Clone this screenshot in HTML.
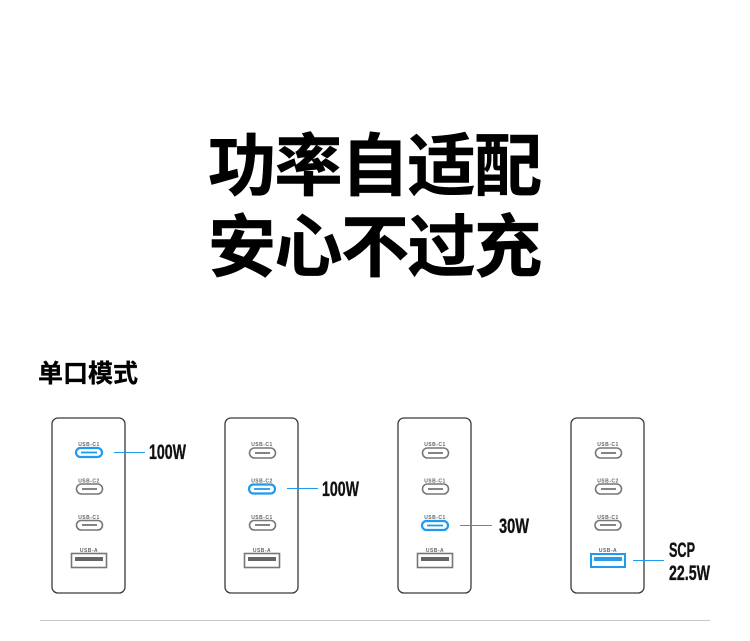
<!DOCTYPE html>
<html><head><meta charset="utf-8"><style>
html,body{margin:0;padding:0;background:#fff;width:750px;height:641px;overflow:hidden}
svg{display:block}
.t{font-family:"Liberation Sans","Noto Sans CJK SC",sans-serif;font-weight:700;fill:#000;stroke:#000;stroke-width:.6px;font-size:68px}
.h{font-family:"Liberation Sans","Noto Sans CJK SC",sans-serif;font-weight:700;fill:#000;stroke:#000;stroke-width:.3px;font-size:25px}
.l{font-family:"Liberation Sans",sans-serif;font-weight:700;fill:#111;stroke:#111;stroke-width:.35px;font-size:21px}
.s{font-family:"Liberation Sans",sans-serif;font-weight:700;fill:#666;font-size:5px;text-anchor:middle;letter-spacing:.5px}
.b{fill:none;stroke:#3a3a3a;stroke-width:1.3}
.c{fill:none;stroke:#777;stroke-width:1.6}
.ci{stroke:#666;stroke-width:1.6}
.on{fill:none;stroke:#1e9bf0;stroke-width:2.2}
.oni{stroke:#1e9bf0;stroke-width:1.8}
.ln{stroke:#1e9bf0;stroke-width:1.1}
</style></head><body>
<svg width="750" height="641" viewBox="0 0 750 641" xmlns="http://www.w3.org/2000/svg">
<text class="t" x="208" y="190" textLength="334" lengthAdjust="spacing">功率自适配</text>
<text class="t" x="208" y="271" textLength="334" lengthAdjust="spacing">安心不过充</text>
<text class="h" x="38" y="382" textLength="100" lengthAdjust="spacing">单口模式</text>

<!-- Unit 1 -->
<rect class="b" x="52" y="418" width="73" height="175" rx="6"/>
<text class="s" x="89" y="446">USB-C1</text>
<rect class="on" x="76" y="448" width="26" height="9" rx="4.500"/><line class="oni" x1="81" y1="452.500" x2="97" y2="452.500"/>
<text class="s" x="89" y="482.500">USB-C2</text>
<rect class="c" x="76.500" y="484" width="26" height="10" rx="5"/><line class="ci" x1="82" y1="489" x2="97" y2="489"/>
<text class="s" x="89" y="519">USB-C1</text>
<rect class="c" x="76.500" y="520.500" width="26" height="9.500" rx="4.700"/><line class="ci" x1="82" y1="525" x2="97" y2="525"/>
<text class="s" x="89" y="552">USB-A</text>
<rect class="c" x="71.500" y="553.500" width="35" height="14"/><rect x="75" y="557" width="28" height="4" fill="#666"/>
<line class="ln" x1="114" y1="452.500" x2="145" y2="452.500"/>
<text class="l" x="149" y="459" textLength="37" lengthAdjust="spacingAndGlyphs">100W</text>

<!-- Unit 2 -->
<rect class="b" x="225" y="418" width="73" height="175" rx="6"/>
<text class="s" x="262" y="446">USB-C1</text>
<rect class="c" x="249.500" y="448" width="26" height="10" rx="5"/><line class="ci" x1="255" y1="453" x2="270" y2="453"/>
<text class="s" x="262" y="482.500">USB-C2</text>
<rect class="on" x="249" y="484.500" width="26" height="9" rx="4.500"/><line class="oni" x1="254" y1="489" x2="270" y2="489"/>
<text class="s" x="262" y="519">USB-C1</text>
<rect class="c" x="249.500" y="520.500" width="26" height="9.500" rx="4.700"/><line class="ci" x1="255" y1="525" x2="270" y2="525"/>
<text class="s" x="262" y="552">USB-A</text>
<rect class="c" x="244.500" y="553.500" width="35" height="14"/><rect x="248" y="557" width="28" height="4" fill="#666"/>
<line class="ln" x1="287" y1="488.500" x2="318" y2="488.500"/>
<text class="l" x="322" y="496" textLength="37" lengthAdjust="spacingAndGlyphs">100W</text>

<!-- Unit 3 -->
<rect class="b" x="398" y="418" width="73" height="175" rx="6"/>
<text class="s" x="435" y="446">USB-C1</text>
<rect class="c" x="422.500" y="448" width="26" height="10" rx="5"/><line class="ci" x1="428" y1="453" x2="443" y2="453"/>
<text class="s" x="435" y="482.500">USB-C1</text>
<rect class="c" x="422.500" y="484" width="26" height="10" rx="5"/><line class="ci" x1="428" y1="489" x2="443" y2="489"/>
<text class="s" x="435" y="519">USB-C1</text>
<rect class="on" x="422" y="521" width="26" height="9" rx="4.500"/><line class="oni" x1="427" y1="525.500" x2="443" y2="525.500"/>
<text class="s" x="435" y="552">USB-A</text>
<rect class="c" x="417.500" y="553.500" width="35" height="14"/><rect x="421" y="557" width="28" height="4" fill="#666"/>
<line class="ln" x1="460" y1="525.500" x2="492" y2="525.500"/>
<text class="l" x="499" y="533" textLength="30" lengthAdjust="spacingAndGlyphs">30W</text>

<!-- Unit 4 -->
<rect class="b" x="571" y="418" width="73" height="175" rx="6"/>
<text class="s" x="608" y="446">USB-C1</text>
<rect class="c" x="595.500" y="448" width="26" height="10" rx="5"/><line class="ci" x1="601" y1="453" x2="616" y2="453"/>
<text class="s" x="608" y="482.500">USB-C2</text>
<rect class="c" x="595.500" y="484" width="26" height="10" rx="5"/><line class="ci" x1="601" y1="489" x2="616" y2="489"/>
<text class="s" x="608" y="519">USB-C1</text>
<rect class="c" x="595" y="520.500" width="26" height="9.500" rx="4.700"/><line class="ci" x1="600" y1="525" x2="616" y2="525"/>
<text class="s" x="608" y="552">USB-A</text>
<rect x="591" y="554" width="34" height="13" fill="none" stroke="#1e9bf0" stroke-width="2"/><rect x="594" y="557" width="28" height="4" fill="#2a9cee"/>
<line class="ln" x1="633" y1="560.500" x2="664" y2="560.500"/>
<text class="l" x="669" y="557" textLength="26" lengthAdjust="spacingAndGlyphs">SCP</text>
<text class="l" x="669" y="580" textLength="41" lengthAdjust="spacingAndGlyphs">22.5W</text>

<line x1="40" y1="620.500" x2="710" y2="620.500" stroke="#c8c8c8" stroke-width="1"/>
</svg>
</body></html>
